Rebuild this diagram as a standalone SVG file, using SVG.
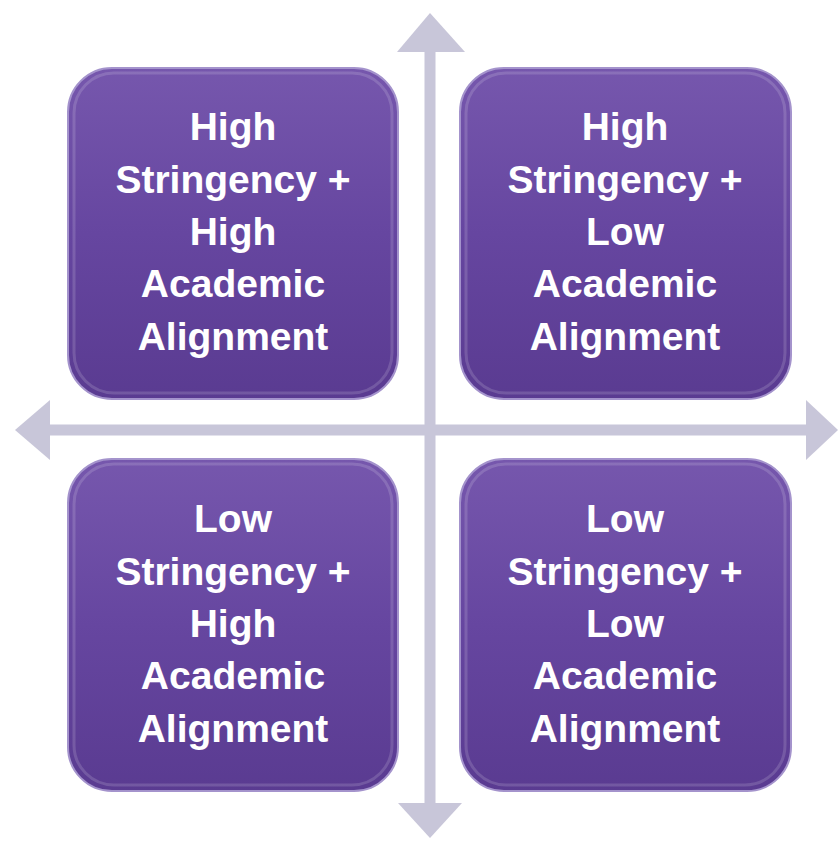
<svg xmlns="http://www.w3.org/2000/svg" width="838" height="841" viewBox="0 0 838 841">
<defs>
<linearGradient id="boxGrad" x1="0" y1="0" x2="0" y2="1">
<stop offset="0" stop-color="#7657ad"/>
<stop offset="0.5" stop-color="#6646a0"/>
<stop offset="1" stop-color="#5a3b91"/>
</linearGradient>
<style>
.box{fill:url(#boxGrad);stroke:#a493cc;stroke-width:2}
.shine{fill:none;stroke:#ffffff;stroke-opacity:0.15;stroke-width:3}
.lbl{font-family:"Liberation Sans",Arial,sans-serif;font-weight:bold;font-size:39px;fill:#ffffff;text-anchor:middle}
.axis{stroke:#c8c6d9;stroke-width:11;fill:none}
.head{fill:#c8c6d9}
</style>
</defs>
<rect width="838" height="841" fill="#ffffff"/>
<g id="connectors">
<line class="axis" x1="430" y1="50" x2="430" y2="806"/>
<line class="axis" x1="48" y1="430" x2="810" y2="430"/>
<polygon class="head" points="430,13 465,52 397,52"/>
<polygon class="head" points="430,838 462,803 398,803"/>
<polygon class="head" points="15,430 50,400 50,460"/>
<polygon class="head" points="838,430 806,400 806,460"/>
</g>
<g id="node-tl">
<rect class="box" x="68" y="68" width="330" height="331" rx="44"/>
<rect class="shine" x="74" y="73" width="318" height="320" rx="40"/>
<text class="lbl"><tspan x="233" y="140">High</tspan><tspan x="233" y="193">Stringency +</tspan><tspan x="233" y="245">High</tspan><tspan x="233" y="297">Academic</tspan><tspan x="233" y="350">Alignment</tspan></text>
</g>
<g id="node-tr">
<rect class="box" x="460" y="68" width="331" height="331" rx="44"/>
<rect class="shine" x="466" y="73" width="319" height="320" rx="40"/>
<text class="lbl"><tspan x="625" y="140">High</tspan><tspan x="625" y="193">Stringency +</tspan><tspan x="625" y="245">Low</tspan><tspan x="625" y="297">Academic</tspan><tspan x="625" y="350">Alignment</tspan></text>
</g>
<g id="node-bl">
<rect class="box" x="68" y="459" width="330" height="332" rx="44"/>
<rect class="shine" x="74" y="464" width="318" height="321" rx="40"/>
<text class="lbl"><tspan x="233" y="532">Low</tspan><tspan x="233" y="585">Stringency +</tspan><tspan x="233" y="637">High</tspan><tspan x="233" y="689">Academic</tspan><tspan x="233" y="742">Alignment</tspan></text>
</g>
<g id="node-br">
<rect class="box" x="460" y="459" width="331" height="332" rx="44"/>
<rect class="shine" x="466" y="464" width="319" height="321" rx="40"/>
<text class="lbl"><tspan x="625" y="532">Low</tspan><tspan x="625" y="585">Stringency +</tspan><tspan x="625" y="637">Low</tspan><tspan x="625" y="689">Academic</tspan><tspan x="625" y="742">Alignment</tspan></text>
</g>
</svg>
